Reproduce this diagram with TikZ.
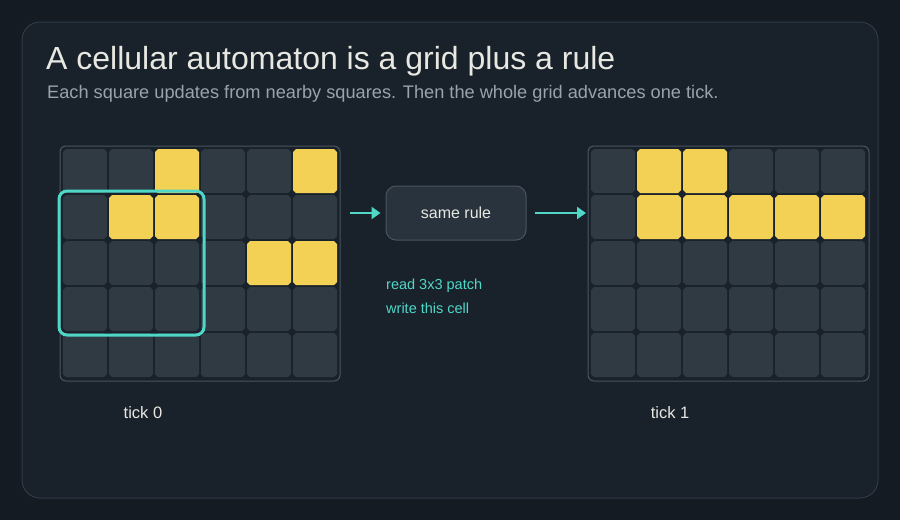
\documentclass[tikz,border=0pt]{standalone}
\usepackage{fontspec}
\setmainfont{Liberation Sans}
\usetikzlibrary{arrows.meta}
\definecolor{bg}{HTML}{141B22}
\definecolor{panel}{HTML}{19212A}
\definecolor{panelb}{HTML}{303B46}
\definecolor{gridb}{HTML}{4A5560}
\definecolor{cell}{HTML}{2F3A42}
\definecolor{rulef}{HTML}{28333D}
\definecolor{yel}{HTML}{F2D155}
\definecolor{cy}{HTML}{4FD8C8}
\definecolor{txt}{HTML}{E8E8E2}
\definecolor{sub}{HTML}{9AA3AB}
\tikzset{
  cellf/.style={fill=cell},
  on/.style={fill=yel},
  arr/.style={draw=cy,line width=2.5pt,-{Triangle[length=9pt,width=12pt]}},
  lbl/.style={text=txt,font=\fontsize{16.5}{18}\selectfont,anchor=center}
}
\newcommand{\mycell}[3]{% x y style
  \fill[#3] (#1+3,#2) -- (#1+41,#2) -- (#1+44,#2+3) -- (#1+44,#2+41) -- (#1+41,#2+44) -- (#1+3,#2+44) -- (#1,#2+41) -- (#1,#2+3) -- cycle;}
\begin{document}
\begin{tikzpicture}[x=1pt,y=-1pt]
\useasboundingbox (0,0) rectangle (900,520);
\fill[bg] (0,0) rectangle (900,520);
\draw[panelb,fill=panel,rounded corners=18pt,line width=1pt] (22,22) rectangle (878,498);
\node[anchor=base west,text=txt,font=\fontsize{32}{36}\selectfont,inner sep=0] (title) at (46,69) {A cellular automaton is a grid plus a rule};
\node[anchor=base west,text=sub,font=\fontsize{18.2}{20}\selectfont,inner sep=0] (subt) at (47,98) {Each square updates from nearby squares. Then the whole grid advances one tick.};
% grids
\draw[gridb,fill=panel,rounded corners=6pt,line width=1pt] (60,146) rectangle (340,381);
\draw[gridb,fill=panel,rounded corners=6pt,line width=1pt] (588,146) rectangle (869,381);
\foreach \r in {0,...,4}{\foreach \c in {0,...,5}{
  \mycell{63+46*\c}{149+46*\r}{cellf}
  \mycell{591+46*\c}{149+46*\r}{cellf}
}}
\foreach \r/\c in {0/2,0/5,1/1,1/2,2/4,2/5}{\mycell{63+46*\c}{149+46*\r}{on}}
\foreach \r/\c in {0/1,0/2,1/1,1/2,1/3,1/4,1/5}{\mycell{591+46*\c}{149+46*\r}{on}}
\draw[cy,line width=3pt,rounded corners=8pt] (59,191) rectangle (204,335);
% rule
\node[draw=gridb,fill=rulef,rounded corners=10pt,line width=1pt,minimum width=140pt,minimum height=54pt,text=txt,font=\fontsize{16}{18}\selectfont] (rule) at (456,213) {\raisebox{-4pt}{same rule}};
\coordinate (a0) at (350,213);
\coordinate (a1) at (586,213);
\draw[arr] (a0) -- ([xshift=-5pt]rule.west);
\draw[arr] ([xshift=8pt]rule.east) -- (a1);
\node[anchor=base west,text=cy,font=\fontsize{14.5}{16}\selectfont,inner sep=0] (t1) at (386,289) {read 3x3 patch};
\node[anchor=base west,text=cy,font=\fontsize{14.5}{16}\selectfont,inner sep=0] (t2) at (386,313) {write this cell};
\node[lbl] (k0) at (143,413) {tick 0};
\node[lbl] (k1) at (670,413) {tick 1};
\end{tikzpicture}
\end{document}
